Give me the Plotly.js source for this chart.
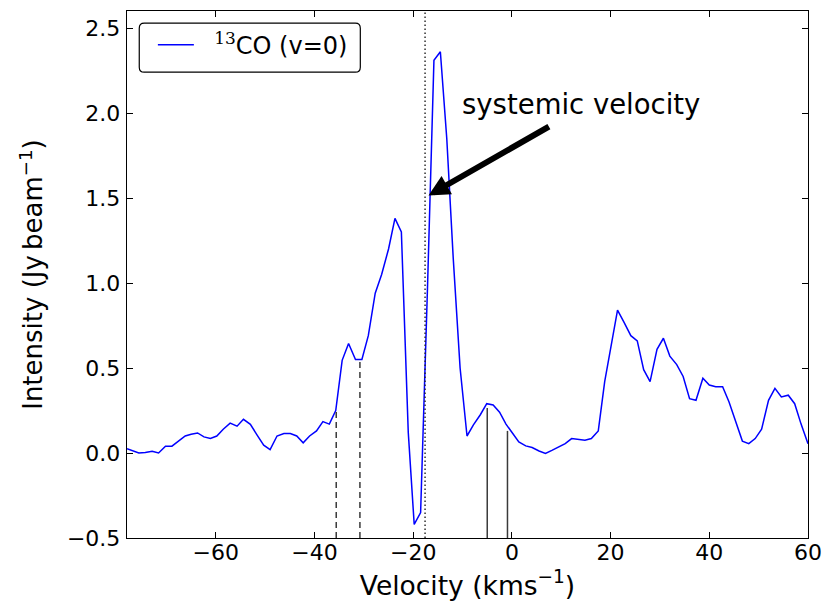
<!DOCTYPE html>
<html>
<head>
<meta charset="utf-8">
<script src="https://cdn.plot.ly/plotly-3.0.1.min.js"></script>
<style>
  html, body { margin: 0; padding: 0; background: #ffffff; }
  #chart { width: 826px; height: 605px; }
</style>
</head>
<body>
<div id="chart"></div>
<script>
// Velocity channels (km/s)
const velocity = [
  -78.0, -76.8, -75.6, -74.3, -72.9, -71.6, -70.2, -68.9, -67.5, -66.2,
  -65.0, -63.7, -62.4, -61.1, -59.8, -58.5, -57.1, -55.7, -54.4, -53.0,
  -51.6, -50.3, -49.0, -47.6, -46.2, -44.9, -43.6, -42.3, -41.0, -39.6,
  -38.3, -37.0, -35.7, -34.4, -33.1, -31.7, -30.4, -29.1, -27.7, -26.4,
  -25.0, -23.7, -22.4, -21.0, -19.8, -18.5, -17.1, -15.8, -14.5, -13.2,
  -11.9, -10.5, -9.1, -7.8, -6.4, -5.1, -3.8, -2.5, -1.2, 0.1,
  1.4, 2.8, 4.1, 5.5, 6.8, 8.1, 9.5, 10.8, 12.1, 13.5,
  14.8, 16.1, 17.5, 18.8, 20.1, 21.4, 22.7, 24.1, 25.4, 26.7,
  28.0, 29.4, 30.7, 32.0, 33.4, 34.7, 36.0, 37.3, 38.7, 40.0,
  41.3, 42.7, 44.0, 45.4, 46.7, 48.0, 49.3, 50.6, 52.0, 53.3,
  54.6, 56.0, 57.3, 58.6, 60.0
];
// 13CO (v=0) intensity (Jy/beam)
const intensity = [
  0.025, 0.012, 0.000, 0.003, 0.010, 0.000, 0.040, 0.040, 0.070, 0.100,
  0.110, 0.118, 0.095, 0.085, 0.100, 0.140, 0.176, 0.158, 0.198, 0.169,
  0.104, 0.046, 0.020, 0.100, 0.114, 0.114, 0.100, 0.060, 0.100, 0.130,
  0.185, 0.170, 0.250, 0.545, 0.644, 0.550, 0.550, 0.690, 0.940, 1.050,
  1.200, 1.380, 1.300, 0.120, -0.420, -0.350, 0.980, 2.310, 2.360, 1.850,
  1.150, 0.500, 0.100, 0.165, 0.225, 0.290, 0.283, 0.240, 0.170, 0.115,
  0.065, 0.042, 0.032, 0.012, -0.003, 0.015, 0.035, 0.055, 0.085, 0.078,
  0.075, 0.085, 0.130, 0.420, 0.630, 0.840, 0.770, 0.690, 0.660, 0.490,
  0.420, 0.610, 0.675, 0.570, 0.520, 0.450, 0.320, 0.310, 0.440, 0.400,
  0.390, 0.390, 0.300, 0.180, 0.070, 0.055, 0.085, 0.140, 0.310, 0.380,
  0.330, 0.340, 0.290, 0.170, 0.055
];
// Marker lines
const dashedX = [-35.6, -30.8];
const dashedTop = [0.25, 0.545];
const solidX = [-5.0, -0.9];
const solidTop = [0.265, 0.13];
const systemicV = -17.6;
// Axis ticks
const xTicks = [-60, -40, -20, 0, 20, 40, 60];
const yTicks = [-0.5, 0.0, 0.5, 1.0, 1.5, 2.0, 2.5];
const xRange = [-78, 60];
const yRange = [-0.5, 2.6];

const FONT = 'DejaVu Sans, sans-serif';

const trace = {
  x: velocity,
  y: intensity,
  type: 'scatter',
  mode: 'lines',
  name: '\u00a0\u00a0<sup><span style="font-family:DejaVu Serif;font-size:17px">13</span></sup>CO (v=0)',
  line: { color: '#0000ff', width: 1.5 },
  hoverinfo: 'x+y'
};

const shapes = [];
dashedX.forEach((v, i) => shapes.push({
  type: 'line', xref: 'x', yref: 'y', x0: v, x1: v, y0: yRange[0], y1: dashedTop[i],
  line: { color: '#3a3a3a', width: 1.5, dash: '6px,4px' }
}));
solidX.forEach((v, i) => shapes.push({
  type: 'line', xref: 'x', yref: 'y', x0: v, x1: v, y0: yRange[0], y1: solidTop[i],
  line: { color: '#3a3a3a', width: 1.5 }
}));
shapes.push({
  type: 'line', xref: 'x', yref: 'paper', x0: systemicV, x1: systemicV, y0: 0, y1: 1,
  line: { color: '#222222', width: 1.4, dash: '1.4px,2.6px' }
});
// rounded legend frame
(function () {
  const x0 = 0.018, x1 = 0.3426, y0 = 0.884, y1 = 0.977, rx = 0.0073, ry = 0.0095;
  const p = `M${x0 + rx},${y1} L${x1 - rx},${y1} Q${x1},${y1} ${x1},${y1 - ry} ` +
    `L${x1},${y0 + ry} Q${x1},${y0} ${x1 - rx},${y0} L${x0 + rx},${y0} ` +
    `Q${x0},${y0} ${x0},${y0 + ry} L${x0},${y1 - ry} Q${x0},${y1} ${x0 + rx},${y1} Z`;
  shapes.push({ type: 'path', xref: 'paper', yref: 'paper', path: p,
    line: { color: '#000000', width: 1.2 }, fillcolor: 'rgba(255,255,255,0)' });
})();

const axisCommon = {
  showline: true, linecolor: '#000000', linewidth: 1.3, mirror: 'ticks',
  ticks: 'inside', ticklen: 6, tickwidth: 1, tickcolor: '#000000',
  showgrid: false, zeroline: false,
  tickfont: { family: FONT, size: 22, color: '#000000' }
};

const layout = {
  width: 826, height: 605,
  margin: { l: 127, r: 18, t: 11, b: 67, pad: 0 },
  paper_bgcolor: '#ffffff', plot_bgcolor: '#ffffff',
  font: { family: FONT, color: '#000000' },
  showlegend: true,
  legend: {
    x: 0.038, y: 0.978, xanchor: 'left', yanchor: 'top',
    bgcolor: 'rgba(0,0,0,0)', borderwidth: 0, itemwidth: 36,
    font: { family: FONT, size: 24, color: '#000000' }
  },
  xaxis: Object.assign({}, axisCommon, {
    range: xRange, tickvals: xTicks, ticktext: xTicks.map(v => (v < 0 ? '\u2212' + Math.abs(v) : String(v))),
    title: { text: 'Velocity (kms<sup>\u22121</sup>)', font: { family: FONT, size: 26.5, color: '#000000' }, standoff: 12 },
    ticklabelstandoff: -6
  }),
  yaxis: Object.assign({}, axisCommon, {
    range: yRange, tickvals: yTicks, tickformat: '.1f',
    title: { text: 'Intensity (Jy\u2009beam<sup>\u22121</sup>)', font: { family: FONT, size: 26, color: '#000000' }, standoff: 16 },
    ticklabelstandoff: 1
  }),
  shapes: shapes,
  annotations: [
    {
      xref: 'x', yref: 'y', x: 14.1, y: 2.055, text: 'systemic velocity', showarrow: false,
      font: { family: FONT, size: 27.5, color: '#000000' }, xanchor: 'center', yanchor: 'middle'
    },
    {
      xref: 'x', yref: 'y', x: -16.9, y: 1.515, axref: 'x', ayref: 'y', ax: 7.8, ay: 1.925,
      text: '', showarrow: true, arrowhead: 2, arrowsize: 0.7, arrowwidth: 6, arrowcolor: '#000000'
    }
  ]
};

Plotly.newPlot('chart', [trace], layout, { displayModeBar: false, staticPlot: true });
</script>
</body>
</html>
